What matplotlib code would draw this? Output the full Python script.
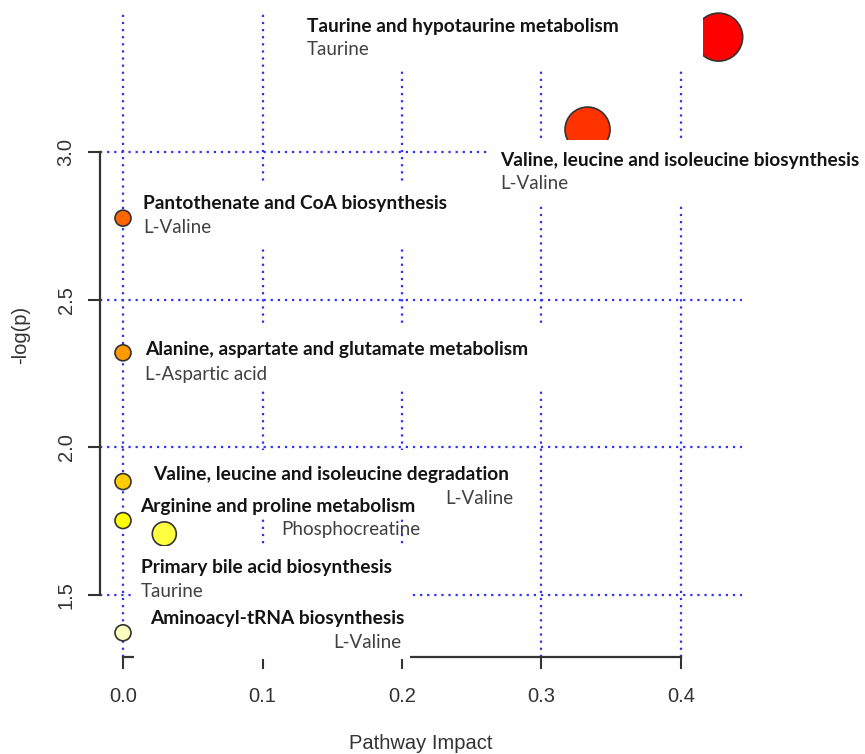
import matplotlib
matplotlib.use("Agg")
import matplotlib.pyplot as plt
from matplotlib.patches import Rectangle

# pathway summary (MetaboAnalyst style)
pathways = ["Taurine and hypotaurine metabolism",
            "Valine, leucine and isoleucine biosynthesis",
            "Pantothenate and CoA biosynthesis",
            "Alanine, aspartate and glutamate metabolism",
            "Valine, leucine and isoleucine degradation",
            "Arginine and proline metabolism",
            "Primary bile acid biosynthesis",
            "Aminoacyl-tRNA biosynthesis"]
hits = ["Taurine", "L-Valine", "L-Valine", "L-Aspartic acid",
        "L-Valine", "Phosphocreatine", "Taurine", "L-Valine"]
impact = [0.427, 0.333, 0.0, 0.0, 0.0, 0.0, 0.0296, 0.0]
neglogp = [3.389, 3.076, 2.776, 2.320, 1.884, 1.752, 1.707, 1.372]

xticks = [0.0, 0.1, 0.2, 0.3, 0.4]
yticks = [1.5, 2.0, 2.5, 3.0]

# heat.colors(8) like R
colors = ["#FF0000", "#FF3300", "#FF6600", "#FF9900",
          "#FFCC00", "#FFFF00", "#FFFF40", "#FFFFBF"]
diam_px = [48, 45, 16, 16, 16, 16, 24, 16]

# label layout: (x, y title, y hit, align of hit line, x of hit)
label_pos = [(0.1319, 3.4233, 3.3454, "left", 0.1319),
             (0.2703, 2.9729, 2.8950, "left", 0.2703),
             (0.0143, 2.8273, 2.7460, "left", 0.0143),
             (0.0158, 2.3296, 2.2483, "left", 0.0158),
             (0.0215, 1.9097, 1.8284, "right", 0.2796),
             (0.0122, 1.8013, 1.7201, "right", 0.2129),
             (0.0129, 1.5948, 1.5135, "left", 0.0129),
             (0.0194, 1.4221, 1.3408, "right", 0.1993)]
# white boxes pasted over the R plot (x0, x1, y0, y1)
boxes = [(0.1197, 0.4158, 3.274, 3.52),
         (0.2616, 0.535, 2.8239, 3.0406),
         (0.0108, 0.2416, 2.6817, 2.9018),
         (0.0108, 0.3133, 2.1941, 2.4074),
         (0.0122, 0.2846, 1.7641, 1.9910),
         (0.0079, 0.2057, 1.2833, 1.6659)]

axfont = "Liberation Sans"
lblfont = ["Lato", "DejaVu Sans"]

fig = plt.figure(figsize=(8.65, 7.54), dpi=100)
ax = fig.add_axes([100/865, 97/754, 642/865, 644/754])
ax.set_xlim(-0.01649, 0.44373)
ax.set_ylim(1.29006, 3.47066)

for xv in xticks:
    ax.axvline(xv, color="#2f2fff", lw=1.6, ls=(0, (1, 2.2)), zorder=1)
for yv in yticks:
    ax.axhline(yv, color="#2f2fff", lw=1.6, ls=(0, (1, 2.2)), zorder=1)

sizes = [(d * 0.72) ** 2 for d in diam_px]
ax.scatter(impact, neglogp, s=sizes, c=colors, edgecolors="#333333",
           linewidths=1.2, zorder=3, clip_on=False)

for x0, x1, y0, y1 in boxes:
    ax.add_patch(Rectangle((x0, y0), x1 - x0, y1 - y0, facecolor="white",
                           edgecolor="none", zorder=4, clip_on=False))

for name, hit, (x, yt, yh, al, xh) in zip(pathways, hits, label_pos):
    ax.text(x, yt, name, family=lblfont, fontweight="bold", fontsize=13.8,
            color="#141414", ha="left", va="center", zorder=5, clip_on=False)
    ax.text(xh, yh, hit, family=lblfont, fontsize=13.5, color="#404040",
            ha=al, va="center", zorder=5, clip_on=False)

for side in ["top", "right"]:
    ax.spines[side].set_visible(False)
ax.spines["left"].set_bounds(1.5, 3.0)
ax.spines["bottom"].set_bounds(0.0, 0.4)
for side in ["left", "bottom"]:
    ax.spines[side].set_color("#333333")
    ax.spines[side].set_linewidth(1.6)
    ax.spines[side].set_zorder(2)

ax.set_xticks(xticks)
ax.set_xticklabels([f"{v:.1f}" for v in xticks], family=axfont, fontsize=14.5, color="#333333")
ax.set_yticks(yticks)
ax.set_yticklabels([f"{v:.1f}" for v in yticks], family=axfont, fontsize=14.5, color="#333333",
                   rotation=90, va="center")
ax.tick_params(direction="out", length=8.6, width=1.5, color="#333333")
ax.tick_params(axis="x", pad=13)
ax.tick_params(axis="y", pad=9)

ax.set_xlabel("Pathway Impact", family=axfont, fontsize=14.5, color="#333333")
ax.set_ylabel("-log(p)", family=axfont, fontsize=14.5, color="#333333")
ax.xaxis.set_label_coords(0.5, -0.119)
ax.yaxis.set_label_coords(-0.109, 0.5)

fig.savefig("out.png", dpi=100, facecolor="white")
